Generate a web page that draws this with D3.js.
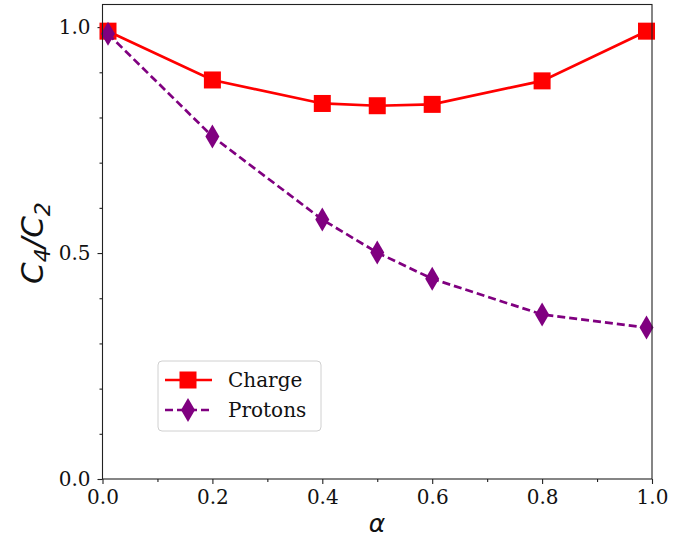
<!DOCTYPE html>
<html>
<head>
<meta charset="utf-8">
<script src="https://cdn.jsdelivr.net/npm/d3@7"></script>
<style>
  html, body { margin: 0; padding: 0; background: #fff; }
  svg { display: block; }
</style>
</head>
<body>
<svg id="chart" width="696" height="542"></svg>
<script>
// Mixing parameter alpha and cumulant ratios C4/C2
const alphaValues = [0.01, 0.2, 0.4, 0.5, 0.6, 0.8, 0.99];
const chargeRatio = [0.991, 0.883, 0.831, 0.826, 0.829, 0.881, 0.991];
const protonRatio = [0.985, 0.758, 0.574, 0.501, 0.443, 0.364, 0.335];
const seriesNames = ["Charge", "Protons"];
const xMajorTicks = [0, 0.2, 0.4, 0.6, 0.8, 1.0];
const xMinorTicks = [0.1, 0.3, 0.5, 0.7, 0.9];
const yMajorTicks = [0, 0.5, 1.0];
const yMinorTicks = [0.1, 0.2, 0.3, 0.4, 0.6, 0.7, 0.8, 0.9];

const svg = d3.select("#chart");
const plotLeft = 102.5, plotRight = 652, plotTop = 4.5, plotBottom = 479;

const x = d3.scaleLinear().domain([0, 1]).range([plotLeft, plotRight]);
const y = d3.scaleLinear().domain([0, 1.05]).range([plotBottom, plotTop]);

const serif = "'DejaVu Serif', serif";
const sans = "'DejaVu Sans', sans-serif";
const tickFont = 20;

// Axes with major and minor ticks
function drawAxis(axisGen, transform) {
  const g = svg.append("g").attr("transform", transform).call(axisGen);
  g.select(".domain").remove();
  g.selectAll("line").attr("stroke", "#222").attr("stroke-width", 1.1);
  return g;
}
const xAxis = drawAxis(d3.axisBottom(x).tickValues(xMajorTicks).tickFormat(d3.format(".1f")).tickSize(5).tickPadding(6),
  `translate(0,${plotBottom})`);
xAxis.selectAll("text").attr("font-family", serif).attr("font-size", tickFont).attr("fill", "#111");
drawAxis(d3.axisBottom(x).tickValues(xMinorTicks).tickFormat("").tickSize(3), `translate(0,${plotBottom})`);

const yAxis = drawAxis(d3.axisLeft(y).tickValues(yMajorTicks).tickFormat(d3.format(".1f")).tickSize(5).tickPadding(7),
  `translate(${plotLeft},0)`);
yAxis.selectAll("text").attr("font-family", serif).attr("font-size", tickFont).attr("fill", "#111");
drawAxis(d3.axisLeft(y).tickValues(yMinorTicks).tickFormat("").tickSize(3), `translate(${plotLeft},0)`);

// Lines and markers
const chargeData = alphaValues.map((a, i) => ({ a, v: chargeRatio[i] }));
const protonData = alphaValues.map((a, i) => ({ a, v: protonRatio[i] }));
const line = d3.line().x(d => x(d.a)).y(d => y(d.v));

const plot = svg.append("g");
plot.append("path").datum(chargeData).attr("d", line)
  .attr("fill", "none").attr("stroke", "#ff0000").attr("stroke-width", 2.7);
const sq = 17;
plot.selectAll(".sq").data(chargeData).join("rect")
  .attr("x", d => x(d.a) - sq / 2).attr("y", d => y(d.v) - sq / 2)
  .attr("width", sq).attr("height", sq).attr("fill", "#ff0000");

const diamond = (cx, cy, w, h) => `M${cx},${cy - h / 2}L${cx + w / 2},${cy}L${cx},${cy + h / 2}L${cx - w / 2},${cy}Z`;
plot.append("path").datum(protonData).attr("d", line)
  .attr("fill", "none").attr("stroke", "#800080").attr("stroke-width", 2.7)
  .attr("stroke-dasharray", "8,4");
plot.selectAll(".dm").data(protonData).join("path")
  .attr("d", d => diamond(x(d.a), y(d.v), 14, 24)).attr("fill", "#800080");

// Frame
svg.append("rect").attr("x", plotLeft).attr("y", plotTop)
  .attr("width", plotRight - plotLeft).attr("height", plotBottom - plotTop)
  .attr("fill", "none").attr("stroke", "#222").attr("stroke-width", 1.1);

// Axis labels
svg.append("text").attr("transform", "translate(43,243) rotate(-90)")
  .attr("text-anchor", "middle").attr("font-family", sans).attr("font-style", "italic")
  .attr("font-size", 31).attr("fill", "#111")
  .html("C<tspan font-size='22' dy='7'>4</tspan><tspan dy='-7'>/C</tspan><tspan font-size='22' dy='7'>2</tspan>");
svg.append("text").attr("x", 377).attr("y", 532).attr("text-anchor", "middle")
  .attr("font-family", sans).attr("font-style", "italic").attr("font-size", 25).attr("fill", "#111")
  .text("α");

// Legend
const lg = svg.append("g");
lg.append("rect").attr("x", 158).attr("y", 361).attr("width", 163).attr("height", 70)
  .attr("rx", 4).attr("fill", "#fff").attr("fill-opacity", 0.8)
  .attr("stroke", "#d0d0d0").attr("stroke-width", 1);
const rows = [
  { name: seriesNames[0], cy: 380, color: "#ff0000", dash: null, marker: "square" },
  { name: seriesNames[1], cy: 410, color: "#800080", dash: "8,4", marker: "diamond" }
];
rows.forEach(r => {
  lg.append("line").attr("x1", 165).attr("x2", 212).attr("y1", r.cy).attr("y2", r.cy)
    .attr("stroke", r.color).attr("stroke-width", 2.7).attr("stroke-dasharray", r.dash);
  if (r.marker === "square") {
    lg.append("rect").attr("x", 188 - sq / 2).attr("y", r.cy - sq / 2)
      .attr("width", sq).attr("height", sq).attr("fill", r.color);
  } else {
    lg.append("path").attr("d", diamond(188, r.cy, 14, 24)).attr("fill", r.color);
  }
  lg.append("text").attr("x", 228).attr("y", r.cy + 7).attr("font-family", serif)
    .attr("font-size", tickFont).attr("fill", "#111").text(r.name);
});
</script>
</body>
</html>
